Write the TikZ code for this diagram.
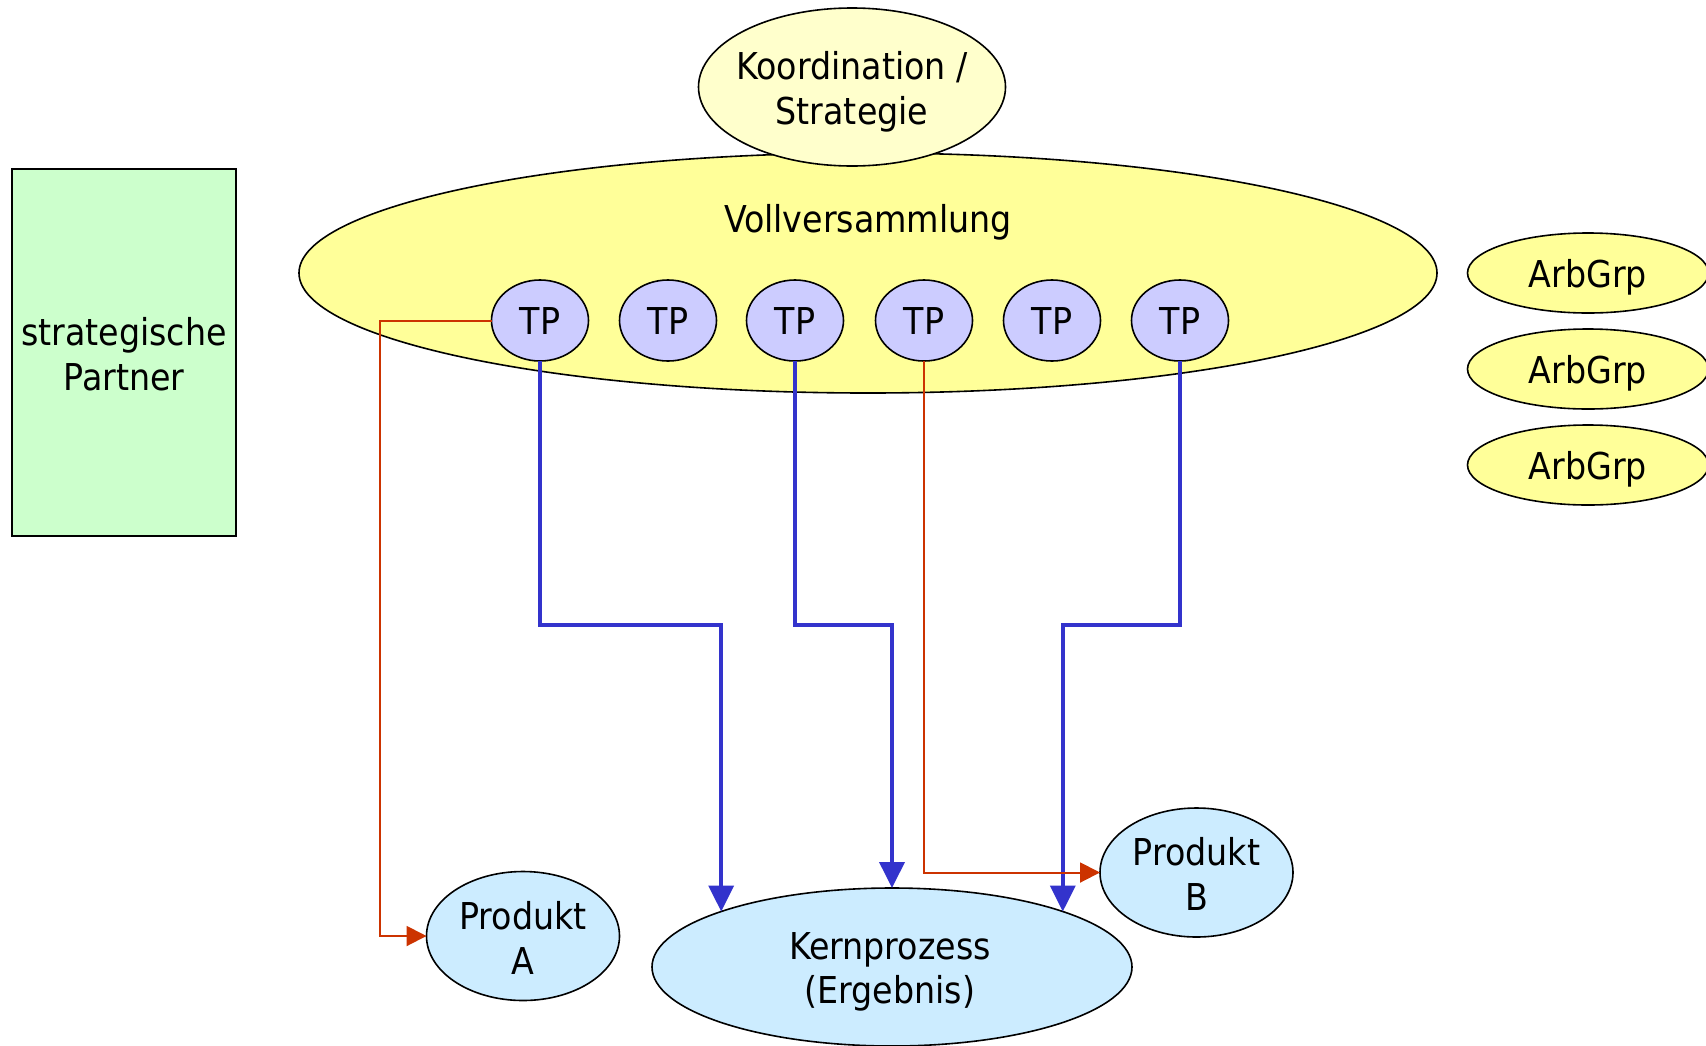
\documentclass[tikz,border=0pt]{standalone}
\usepackage{fontspec}
\setmainfont{DejaVu Sans Condensed}
\usetikzlibrary{shapes.geometric,arrows.meta}

\definecolor{plenumyellow}{HTML}{FFFF99}
\definecolor{steeryellow}{HTML}{FFFFCC}
\definecolor{tpviolet}{HTML}{CCCCFF}
\definecolor{resultblue}{HTML}{CCECFF}
\definecolor{partnergreen}{HTML}{CCFFCC}
\definecolor{flowblue}{HTML}{3333CC}
\definecolor{flowred}{HTML}{CC3300}

\begin{document}
\begin{tikzpicture}[x=1pt,y=-1pt,
  every node/.style={font=\fontsize{37}{44.6}\selectfont},
  oval/.style={ellipse, draw=black, line width=1.6pt, inner sep=0pt, outer sep=0pt},
  lbl/.style={align=center, inner sep=0pt},
  tpoval/.style={oval, fill=tpviolet, minimum width=97pt, minimum height=81pt},
  agoval/.style={oval, fill=plenumyellow, minimum width=241pt, minimum height=80pt},
  blueflow/.style={draw=flowblue, line width=3.8pt, -{Triangle[length=26pt,width=25pt]}},
  redflow/.style={draw=flowred, line width=2pt, -{Triangle[length=20pt,width=20pt]}},
]
\useasboundingbox (0,0) rectangle (1706,1045);

% strategic partners
\node[draw=black, line width=1.6pt, fill=partnergreen, minimum width=224pt,
      minimum height=367pt, inner sep=0pt] (partner) at (124,352.5) {};
\node[lbl] (partnertxt) at (124,354) {strategische\\Partner};

% plenary assembly with the sub-projects
\node[oval, fill=plenumyellow, minimum width=1138pt, minimum height=240pt] (voll) at (868,273) {};
\node[lbl] (volltxt) at (868,222) {Vollversammlung};

% coordination / strategy on top
\node[oval, fill=steeryellow, minimum width=307pt, minimum height=158pt] (koord) at (852,87) {};
\node[lbl] (koordtxt) at (852,92) {Koordination /\\Strategie};

% sub-projects
\foreach \i/\x in {1/540,2/668,3/795,4/924,5/1052,6/1180}{
  \node[tpoval] (tp\i) at (\x,320.5) {};
  \node[lbl] (tptxt\i) at (\x,321) {TP};
}

% working groups
\foreach \i/\y in {1/273,2/369,3/465}{
  \node[agoval] (ag\i) at (1588,\y) {};
  \node[lbl] (agtxt\i) at (1588,\y+4) {ArbGrp};
}

% results
\node[oval, fill=resultblue, minimum width=480pt, minimum height=158pt] (kern) at (892,967) {};
\node[lbl] (kerntxt) at (890,972) {Kernprozess\\(Ergebnis)};
\node[oval, fill=resultblue, minimum width=193pt, minimum height=129pt] (proda) at (523,936) {};
\node[lbl] (prodatxt) at (523,938) {Produkt\\A};
\node[oval, fill=resultblue, minimum width=193pt, minimum height=129pt] (prodb) at (1196.5,872.5) {};
\node[lbl] (prodbtxt) at (1196.5,874) {Produkt\\B};

% flows into the core process
\coordinate (redA) at (380,936);
\draw[blueflow] (tp1.south) -- (tp1.south |- 0,625) -| (kern.162);
\draw[blueflow] (tp3.south) -- (tp3.south |- 0,625) -| (kern.north);
\draw[blueflow] (tp6.south) -- (tp6.south |- 0,625) -| (kern.18);

% flows into the products
\draw[redflow] (tp1.west) -| (redA) -- (proda.west);
\draw[redflow] (tp4.south) |- (prodb.west);
\end{tikzpicture}
\end{document}
